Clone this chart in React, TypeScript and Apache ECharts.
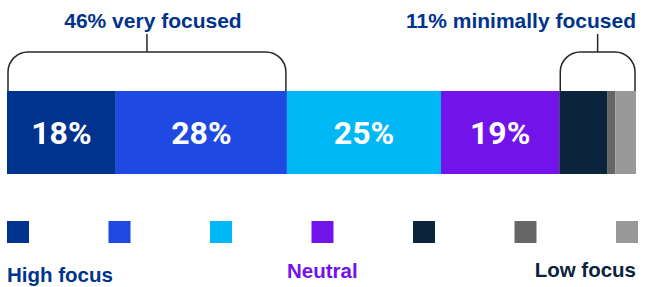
import React, { useEffect, useRef } from 'react';
import * as echarts from 'echarts';

const categories = ['Respondents'];
const seriesNames = ['Focus 1', 'Focus 2', 'Focus 3', 'Neutral', 'Focus 5', 'Focus 6', 'Focus 7'];
const seriesValues = [17.3, 27.2, 24.5, 18.8, 7.6, 1.3, 3.3];
const barLabels = ['18%', '28%', '25%', '19%', '', '', ''];
const colors = ['#00338D', '#1E49E2', '#00B8F5', '#7213EA', '#0C233C', '#666666', '#999999'];
const groupTitles = ['46% very focused', '11% minimally focused'];
const groupRanges = [[0, 1], [4, 6]];
const legendLabels = ['High focus', 'Neutral', 'Low focus'];
const legendLabelColors = ['#00338D', '#7213EA', '#0C233C'];

const W = 647;
const H = 287;
const GRID_LEFT = 7;
const GRID_RIGHT = 11;
const GRID_TOP = 91;
const BAR_H = 83;
const TITLE_FONT = 'Liberation Sans';

export default function App() {
  const ref = useRef<HTMLDivElement>(null);
  useEffect(() => {
    if (!ref.current) return;
    const chart = echarts.init(ref.current, undefined, { renderer: 'svg' });
    chart.setOption({
      animation: false,
      grid: { left: GRID_LEFT, right: GRID_RIGHT, top: GRID_TOP, height: BAR_H, containLabel: false },
      xAxis: { type: 'value', min: 0, max: 100, show: false },
      yAxis: { type: 'category', data: categories, show: false },
      legend: {
        data: seriesNames,
        left: 7,
        top: 221,
        padding: 0,
        itemWidth: 22,
        itemHeight: 22,
        itemGap: 79.5,
        icon: 'rect',
        selectedMode: false,
        formatter: () => '',
        textStyle: { fontSize: 1 },
      },
      series: seriesNames.map((name, i) => ({
        name,
        type: 'bar',
        stack: 'total',
        barWidth: BAR_H,
        data: [seriesValues[i]],
        itemStyle: { color: colors[i] },
        label: {
          show: barLabels[i] !== '',
          position: 'inside',
          formatter: () => barLabels[i],
          color: '#ffffff',
          fontFamily: 'Roboto',
          fontWeight: 'bold',
          fontSize: 32,
        },
      })),
    });

    const cum: number[] = [0];
    seriesValues.forEach((v, i) => cum.push(cum[i] + v));
    const px = (v: number) => chart.convertToPixel({ xAxisIndex: 0 }, v) as number;
    const top = 52;
    const r = 20;
    const barTop = GRID_TOP;
    const lineStyle = { stroke: '#262626', lineWidth: 1.5, fill: null };
    const graphics: any[] = [];
    groupRanges.forEach(([a, b], gi) => {
      const x0 = px(cum[a]) + 1;
      const x1 = px(cum[b + 1]) - 1;
      const mid = (x0 + x1) / 2;
      graphics.push(
        { type: 'line', shape: { x1: x0, y1: barTop, x2: x0, y2: top + r }, style: lineStyle },
        { type: 'arc', shape: { cx: x0 + r, cy: top + r, r, startAngle: Math.PI, endAngle: Math.PI * 1.5, clockwise: true }, style: lineStyle },
        { type: 'line', shape: { x1: x0 + r, y1: top, x2: x1 - r, y2: top }, style: lineStyle },
        { type: 'arc', shape: { cx: x1 - r, cy: top + r, r, startAngle: Math.PI * 1.5, endAngle: Math.PI * 2, clockwise: true }, style: lineStyle },
        { type: 'line', shape: { x1: x1, y1: top + r, x2: x1, y2: barTop }, style: lineStyle },
        { type: 'line', shape: { x1: mid, y1: top, x2: mid, y2: 34 }, style: lineStyle },
      );
      graphics.push({
        type: 'text',
        x: gi === 0 ? mid + 6 : x1 + 1,
        y: 20.5,
        style: {
          text: groupTitles[gi],
          fill: '#00338D',
          font: `bold 21px "${TITLE_FONT}"`,
          align: gi === 0 ? 'center' : 'right',
          verticalAlign: 'middle',
        },
      });
    });
    const labelPos = [
      { x: 7, y: 274, align: 'left' },
      { x: 287, y: 270.5, align: 'left' },
      { x: 636, y: 269, align: 'right' },
    ];
    legendLabels.forEach((t, i) => {
      graphics.push({
        type: 'text',
        x: labelPos[i].x,
        y: labelPos[i].y,
        style: {
          text: t,
          fill: legendLabelColors[i],
          font: `bold 20.5px "${TITLE_FONT}"`,
          align: labelPos[i].align,
          verticalAlign: 'middle',
        },
      });
    });
    chart.setOption({ graphic: graphics });
    return () => chart.dispose();
  }, []);
  return <div ref={ref} style={{ position: 'fixed', left: 0, top: 0, width: W, height: H, background: '#fff' }} />;
}
